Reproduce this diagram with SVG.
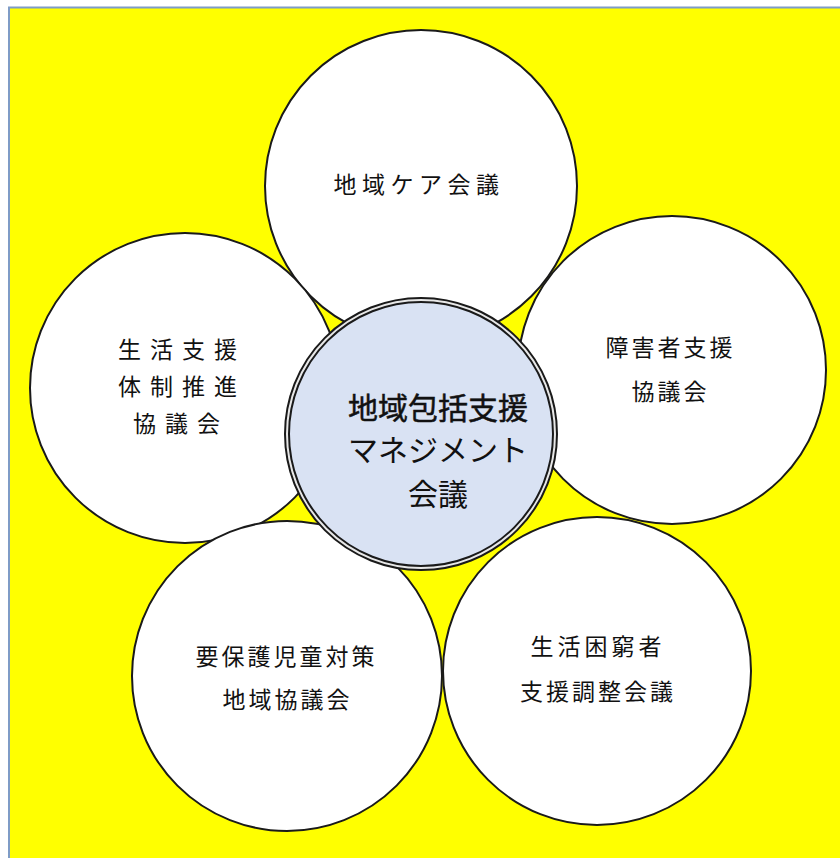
<svg xmlns="http://www.w3.org/2000/svg" width="840" height="858" viewBox="0 0 840 858">
<style>
.petal{fill:#ffffff;stroke:#1a1a1a;stroke-width:2}
.t{font-family:"Noto Sans CJK JP","Noto Sans",sans-serif;font-size:23px;fill:#111;text-anchor:middle;dominant-baseline:central}
.c{font-family:"Noto Sans CJK JP","Noto Sans",sans-serif;font-size:30px;fill:#111;text-anchor:middle;dominant-baseline:central}
</style>
<rect x="0" y="0" width="840" height="858" fill="#ffffff"/>
<rect x="9" y="7.5" width="840" height="860" fill="#ffff00" stroke="#7f9cc6" stroke-width="2"/>
<g id="connectors"></g>
<g id="node-care">
<circle class="petal" cx="421" cy="186" r="156"/>
<text class="t" x="419" y="183" letter-spacing="5.5">地域ケア会議</text>
</g>
<g id="node-shogai">
<circle class="petal" cx="672" cy="370" r="154"/>
<text class="t" x="670.5" y="346" letter-spacing="3">障害者支援</text>
<text class="t" x="670.5" y="390" letter-spacing="3">協議会</text>
</g>
<g id="node-seikatsu">
<circle class="petal" cx="185" cy="388" r="155"/>
<text class="t" x="182" y="348" letter-spacing="9">生活支援</text>
<text class="t" x="182" y="385" letter-spacing="9">体制推進</text>
<text class="t" x="181" y="422" letter-spacing="9">協議会</text>
</g>
<g id="node-yohogo">
<circle class="petal" cx="287" cy="676" r="155"/>
<text class="t" x="286.5" y="655" letter-spacing="3">要保護児童対策</text>
<text class="t" x="287.5" y="698" letter-spacing="3">地域協議会</text>
</g>
<g id="node-konkyu">
<circle class="petal" cx="597" cy="671" r="154"/>
<text class="t" x="598" y="645" letter-spacing="4">生活困窮者</text>
<text class="t" x="598" y="690" letter-spacing="3">支援調整会議</text>
</g>
<g id="node-center">
<circle cx="421" cy="434" r="134" fill="#d9e2f3" stroke="#1a1a1a" stroke-width="6"/>
<circle cx="421" cy="434" r="134" fill="none" stroke="#e8e8e8" stroke-width="2"/>
<text class="c" x="438" y="406" stroke="#111" stroke-width="0.5">地域包括支援</text>
<text class="c" x="438" y="448">マネジメント</text>
<text class="c" x="438" y="492">会議</text>
</g>
</svg>
